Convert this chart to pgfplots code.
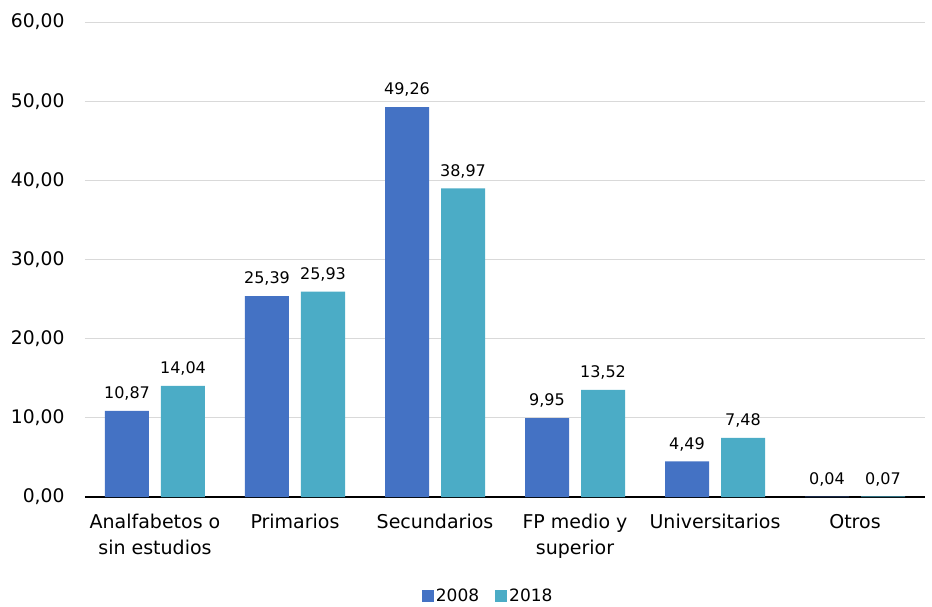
\documentclass[border=0pt]{standalone}
\usepackage{pgfplots}
\pgfplotsset{compat=1.18}
\usepackage{fontspec}
\setmainfont{DejaVu Sans}
\definecolor{c08}{HTML}{4472C4}
\definecolor{c18}{HTML}{4BACC6}
\definecolor{gridc}{HTML}{D9D9D9}
\begin{document}
\begin{tikzpicture}[font=\fontsize{18.7}{22}\selectfont]
\begin{axis}[
  scale only axis, width=840pt, height=475pt,
  xmin=-0.5, xmax=5.5, ymin=0, ymax=60,
  ytick={0,10,...,60},
  xtick={0,...,5},
  xticklabels={{Analfabetos o\\sin estudios},Primarios,Secundarios,{FP medio y\\superior},Universitarios,Otros},
  xticklabel style={align=center, font=\fontsize{19}{26}\selectfont, yshift=-14pt},
  yticklabel style={anchor=east, xshift=-17pt, font=\fontsize{18.7}{22}\selectfont},
  major tick length=0pt,
  axis x line*=bottom, axis y line*=left,
  x axis line style={black, line width=2pt, -},
  y axis line style={draw=none},
  ymajorgrids, grid style={gridc, line width=1pt},
  /pgf/number format/.cd, fixed, fixed zerofill, precision=2, use comma, assume math mode=true,
  /pgfplots/.cd,
  ybar, bar width=44pt,
  nodes near coords,
  nodes near coords style={font=\fontsize{16}{20}\selectfont, yshift=7pt},
  legend columns=2,
  legend style={at={(0.48,-0.208)}, anchor=center, draw=none, fill=none,
    font=\fontsize{17}{22}\selectfont, /tikz/every even column/.append style={column sep=14pt}},
  legend image code/.code={\fill[#1] (0pt,-6pt) rectangle (12pt,6pt);},
  clip=false,
]
\addplot[fill=c08, draw=none, bar shift=-28pt] coordinates {(0,10.87) (1,25.39) (2,49.26) (3,9.95) (4,4.49) (5,0.04)};
\addplot[fill=c18, draw=none, bar shift=28pt] coordinates {(0,14.04) (1,25.93) (2,38.97) (3,13.52) (4,7.48) (5,0.07)};
\legend{2008,2018}
\end{axis}
\pgfresetboundingbox
\path (-85pt,-109pt) rectangle (847pt,497pt);
\end{tikzpicture}
\end{document}
